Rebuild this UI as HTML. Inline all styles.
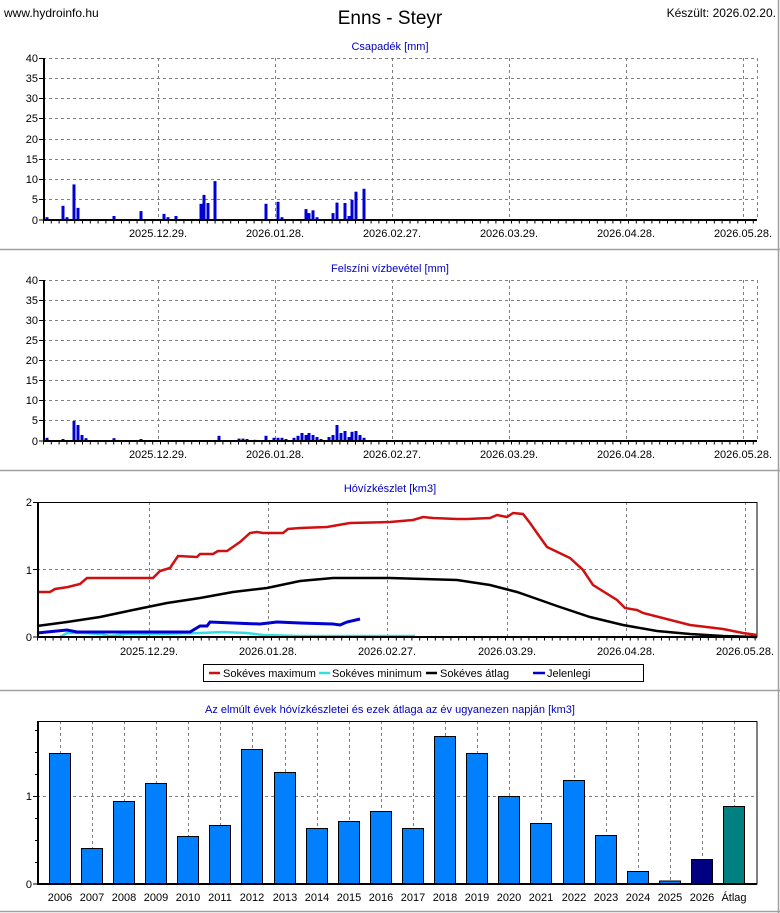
<!DOCTYPE html>
<html><head><meta charset="utf-8"><style>
html,body{margin:0;padding:0;background:#fff}
svg{display:block;font-family:"Liberation Sans",sans-serif}
</style></head><body>
<svg width="780" height="913" viewBox="0 0 780 913" xmlns="http://www.w3.org/2000/svg">
<rect width="780" height="913" fill="#fff"/>
<text x="4" y="17" font-size="12">www.hydroinfo.hu</text>
<text x="390" y="24" font-size="19" text-anchor="middle">Enns - Steyr</text>
<text x="776" y="17" font-size="12" text-anchor="end">Készült: 2026.02.20.</text>
<g stroke="#a0a0a0" stroke-width="1.5"><line x1="0" y1="249.5" x2="780" y2="249.5"/><line x1="0" y1="470.5" x2="780" y2="470.5"/><line x1="0" y1="690.5" x2="780" y2="690.5"/><line x1="0" y1="911.5" x2="780" y2="911.5"/><line x1="778.5" y1="0" x2="778.5" y2="913"/></g>

<!-- Chart 1 -->
<text x="390" y="50" font-size="11" fill="#0000c0" text-anchor="middle">Csapadék [mm]</text>
<g stroke="#808080" stroke-dasharray="3,3" stroke-width="1">
<line x1="43" y1="58.5" x2="757" y2="58.5"/><line x1="43" y1="78.5" x2="757" y2="78.5"/><line x1="43" y1="98.5" x2="757" y2="98.5"/><line x1="43" y1="118.5" x2="757" y2="118.5"/><line x1="43" y1="139.5" x2="757" y2="139.5"/><line x1="43" y1="159.5" x2="757" y2="159.5"/><line x1="43" y1="179.5" x2="757" y2="179.5"/><line x1="43" y1="199.5" x2="757" y2="199.5"/>
<line x1="158.5" y1="58" x2="158.5" y2="220"/><line x1="275.5" y1="58" x2="275.5" y2="220"/><line x1="392.5" y1="58" x2="392.5" y2="220"/><line x1="509.5" y1="58" x2="509.5" y2="220"/><line x1="626.5" y1="58" x2="626.5" y2="220"/><line x1="743.5" y1="58" x2="743.5" y2="220"/><line x1="757.5" y1="58" x2="757.5" y2="220"/>
</g>
<g fill="#0000d0">
<rect x="45.5" y="217.2" width="3" height="2.8"/><rect x="61.5" y="205.8" width="3" height="14.2"/><rect x="65.5" y="217.2" width="3" height="2.8"/><rect x="72.5" y="184.4" width="3" height="35.6"/><rect x="76.5" y="207.9" width="3" height="12.1"/><rect x="112.5" y="216" width="3" height="4"/><rect x="139.5" y="211.1" width="3" height="8.9"/><rect x="162.5" y="213.9" width="3" height="6.1"/><rect x="166.5" y="217.2" width="3" height="2.8"/><rect x="174.5" y="216" width="3" height="4"/><rect x="199.5" y="203.8" width="3" height="16.2"/><rect x="202.5" y="194.9" width="3" height="25.1"/><rect x="206.5" y="203" width="3" height="17"/><rect x="213.5" y="181.1" width="3" height="38.9"/><rect x="264.5" y="203.8" width="3" height="16.2"/><rect x="276.5" y="201.8" width="3" height="18.2"/><rect x="280.5" y="217.2" width="3" height="2.8"/><rect x="304.5" y="209.1" width="3" height="10.9"/><rect x="307.5" y="213.1" width="3" height="6.9"/><rect x="311.5" y="210.3" width="3" height="9.7"/><rect x="315.5" y="217.2" width="3" height="2.8"/><rect x="331.5" y="213.1" width="3" height="6.9"/><rect x="335.5" y="202.6" width="3" height="17.4"/><rect x="343.5" y="203" width="3" height="17"/><rect x="347.5" y="216" width="3" height="4"/><rect x="350.5" y="199.8" width="3" height="20.2"/><rect x="354.5" y="191.7" width="3" height="28.3"/><rect x="362.5" y="188.8" width="3" height="31.2"/>
</g>
<line x1="43" y1="222" x2="757" y2="222" stroke="#000" stroke-width="3" stroke-dasharray="1,6.8"/>
<g stroke="#000" stroke-width="2"><line x1="44" y1="58" x2="44" y2="221"/><line x1="43" y1="220" x2="757" y2="220"/></g>
<g stroke="#000"><line x1="39" y1="58.5" x2="44" y2="58.5"/><line x1="39" y1="78.5" x2="44" y2="78.5"/><line x1="39" y1="98.5" x2="44" y2="98.5"/><line x1="39" y1="118.5" x2="44" y2="118.5"/><line x1="39" y1="139.5" x2="44" y2="139.5"/><line x1="39" y1="159.5" x2="44" y2="159.5"/><line x1="39" y1="179.5" x2="44" y2="179.5"/><line x1="39" y1="199.5" x2="44" y2="199.5"/><line x1="39" y1="220" x2="44" y2="220"/></g>
<g font-size="11" text-anchor="end"><text x="38" y="62">40</text><text x="38" y="82">35</text><text x="38" y="102">30</text><text x="38" y="122">25</text><text x="38" y="143">20</text><text x="38" y="163">15</text><text x="38" y="183">10</text><text x="38" y="203">5</text><text x="38" y="224">0</text></g>
<g font-size="11" text-anchor="middle"><text x="158" y="237">2025.12.29.</text><text x="275" y="237">2026.01.28.</text><text x="392" y="237">2026.02.27.</text><text x="509" y="237">2026.03.29.</text><text x="626" y="237">2026.04.28.</text><text x="743" y="237">2026.05.28.</text></g>

<!-- Chart 2 -->
<text x="390" y="272" font-size="11" fill="#0000c0" text-anchor="middle">Felszíni vízbevétel [mm]</text>
<g stroke="#808080" stroke-dasharray="3,3" stroke-width="1">
<line x1="43" y1="280.5" x2="757" y2="280.5"/><line x1="43" y1="300.5" x2="757" y2="300.5"/><line x1="43" y1="320.5" x2="757" y2="320.5"/><line x1="43" y1="340.5" x2="757" y2="340.5"/><line x1="43" y1="360.5" x2="757" y2="360.5"/><line x1="43" y1="380.5" x2="757" y2="380.5"/><line x1="43" y1="400.5" x2="757" y2="400.5"/><line x1="43" y1="420.5" x2="757" y2="420.5"/>
<line x1="158.5" y1="280" x2="158.5" y2="441"/><line x1="275.5" y1="280" x2="275.5" y2="441"/><line x1="392.5" y1="280" x2="392.5" y2="441"/><line x1="509.5" y1="280" x2="509.5" y2="441"/><line x1="626.5" y1="280" x2="626.5" y2="441"/><line x1="743.5" y1="280" x2="743.5" y2="441"/><line x1="757.5" y1="280" x2="757.5" y2="441"/>
</g>
<g fill="#0000d0">
<rect x="45.5" y="437.8" width="3" height="3.2"/><rect x="61.5" y="439" width="3" height="2"/><rect x="72.5" y="421" width="3" height="20"/><rect x="76.5" y="425" width="3" height="16"/><rect x="80.5" y="435" width="3" height="6"/><rect x="84.5" y="438.2" width="3" height="2.8"/><rect x="112.5" y="438.2" width="3" height="2.8"/><rect x="139.5" y="439" width="3" height="2"/><rect x="217.5" y="435.8" width="3" height="5.2"/><rect x="237.5" y="438.6" width="3" height="2.4"/><rect x="241.5" y="438.6" width="3" height="2.4"/><rect x="245.5" y="439" width="3" height="2"/><rect x="253.5" y="439.8" width="3" height="1.2"/><rect x="264.5" y="435.8" width="3" height="5.2"/><rect x="272.5" y="437.8" width="3" height="3.2"/><rect x="276.5" y="437.8" width="3" height="3.2"/><rect x="280.5" y="437.8" width="3" height="3.2"/><rect x="284.5" y="439" width="3" height="2"/><rect x="292.5" y="437.8" width="3" height="3.2"/><rect x="296.5" y="435.8" width="3" height="5.2"/><rect x="300.5" y="433" width="3" height="8"/><rect x="304.5" y="435" width="3" height="6"/><rect x="307.5" y="433" width="3" height="8"/><rect x="311.5" y="435" width="3" height="6"/><rect x="315.5" y="437" width="3" height="4"/><rect x="319.5" y="439" width="3" height="2"/><rect x="327.5" y="437" width="3" height="4"/><rect x="331.5" y="435" width="3" height="6"/><rect x="335.5" y="425" width="3" height="16"/><rect x="339.5" y="433" width="3" height="8"/><rect x="343.5" y="431" width="3" height="10"/><rect x="347.5" y="437" width="3" height="4"/><rect x="350.5" y="431.8" width="3" height="9.2"/><rect x="354.5" y="431" width="3" height="10"/><rect x="358.5" y="435" width="3" height="6"/><rect x="362.5" y="437.8" width="3" height="3.2"/>
</g>
<line x1="43" y1="443" x2="757" y2="443" stroke="#000" stroke-width="3" stroke-dasharray="1,6.8"/>
<g stroke="#000" stroke-width="2"><line x1="44" y1="280" x2="44" y2="442"/><line x1="43" y1="441" x2="757" y2="441"/></g>
<g stroke="#000"><line x1="39" y1="280.5" x2="44" y2="280.5"/><line x1="39" y1="300.5" x2="44" y2="300.5"/><line x1="39" y1="320.5" x2="44" y2="320.5"/><line x1="39" y1="340.5" x2="44" y2="340.5"/><line x1="39" y1="360.5" x2="44" y2="360.5"/><line x1="39" y1="380.5" x2="44" y2="380.5"/><line x1="39" y1="400.5" x2="44" y2="400.5"/><line x1="39" y1="420.5" x2="44" y2="420.5"/><line x1="39" y1="441" x2="44" y2="441"/></g>
<g font-size="11" text-anchor="end"><text x="38" y="284">40</text><text x="38" y="304">35</text><text x="38" y="324">30</text><text x="38" y="344">25</text><text x="38" y="364">20</text><text x="38" y="384">15</text><text x="38" y="404">10</text><text x="38" y="424">5</text><text x="38" y="445">0</text></g>
<g font-size="11" text-anchor="middle"><text x="158" y="458">2025.12.29.</text><text x="275" y="458">2026.01.28.</text><text x="392" y="458">2026.02.27.</text><text x="509" y="458">2026.03.29.</text><text x="626" y="458">2026.04.28.</text><text x="743" y="458">2026.05.28.</text></g>

<!-- Chart 3 -->
<text x="390" y="492" font-size="11" fill="#0000c0" text-anchor="middle">Hóvízkészlet [km3]</text>
<g stroke="#808080" stroke-dasharray="3,3" stroke-width="1">
<line x1="37" y1="569.5" x2="757" y2="569.5"/>
<line x1="149.5" y1="502" x2="149.5" y2="637"/><line x1="268.5" y1="502" x2="268.5" y2="637"/><line x1="387.5" y1="502" x2="387.5" y2="637"/><line x1="507.5" y1="502" x2="507.5" y2="637"/><line x1="626.5" y1="502" x2="626.5" y2="637"/><line x1="745.5" y1="502" x2="745.5" y2="637"/>
</g>
<rect x="37.5" y="502.5" width="719.5" height="134.5" fill="none" stroke="#000" stroke-width="1"/>
<polyline fill="none" stroke="#30e0e0" stroke-width="2.5" points="60,637 67,633 83,633 100,634 110,636 127,634 157,634 200,633 223,632 247,633 263,635 300,636 415,636"/>
<polyline fill="none" stroke="#000" stroke-width="2.5" points="37,626 67,622 100,617 133,610 167,603 200,598 233,592 267,588 300,581 333,578 390,578 457,580 490,585 517,592 540,600 557,606 590,617 623,625 657,631 690,634 723,636 757,637"/>
<polyline fill="none" stroke="#d01010" stroke-width="2.5" points="37,592 50,592 55,589 68,587 80,584 87,578 153,578 160,571 170,568 178,556 197,557 200,554 213,554 218,551 227,551 240,542 250,533 257,532 263,533 283,533 288,529 300,528 327,527 350,523 390,522 413,520 423,517 433,518 457,519 467,519 490,518 497,515 507,517 513,513 523,514 530,523 537,533 547,547 570,558 583,570 593,585 617,600 625,608 637,610 643,613 690,625 723,629 743,633 757,635"/>
<polyline fill="none" stroke="#0000d0" stroke-width="3" points="37,633 67,630 77,632 190,632 200,626 207,626 210,622 233,623 260,624 277,622 300,623 333,624 340,625 347,622 360,619"/>
<line x1="37" y1="639" x2="757" y2="639" stroke="#000" stroke-width="3" stroke-dasharray="1,6.8"/>
<g stroke="#000" stroke-width="2"><line x1="38" y1="502" x2="38" y2="638"/><line x1="37" y1="637" x2="757" y2="637"/></g>
<g stroke="#000"><line x1="33" y1="502.5" x2="38" y2="502.5"/><line x1="33" y1="569.5" x2="38" y2="569.5"/><line x1="33" y1="637" x2="38" y2="637"/></g>
<g font-size="11" text-anchor="end"><text x="32" y="506">2</text><text x="32" y="574">1</text><text x="32" y="641">0</text></g>
<g font-size="11" text-anchor="middle"><text x="149" y="655">2025.12.29.</text><text x="268" y="655">2026.01.28.</text><text x="387" y="655">2026.02.27.</text><text x="507" y="655">2026.03.29.</text><text x="626" y="655">2026.04.28.</text><text x="745" y="655">2026.05.28.</text></g>
<rect x="203.5" y="664.5" width="440" height="17" fill="#fff" stroke="#000"/>
<g stroke-width="2.5"><line x1="209" y1="673" x2="220" y2="673" stroke="#d01010"/><line x1="319" y1="673" x2="330" y2="673" stroke="#30e0e0"/><line x1="426" y1="673" x2="437" y2="673" stroke="#000"/><line x1="533" y1="673" x2="545" y2="673" stroke="#0000d0"/></g>
<g font-size="11"><text x="223" y="677">Sokéves maximum</text><text x="332" y="677">Sokéves minimum</text><text x="440" y="677">Sokéves átlag</text><text x="547" y="677">Jelenlegi</text></g>

<!-- Chart 4 -->
<text x="390" y="713" font-size="11" fill="#0000c0" text-anchor="middle">Az elmúlt évek hóvízkészletei és ezek átlaga az év ugyanezen napján [km3]</text>
<g stroke="#808080" stroke-dasharray="3,3" stroke-width="1">
<line x1="37" y1="796.5" x2="757" y2="796.5"/>
<line x1="60.5" y1="721" x2="60.5" y2="884"/><line x1="92.5" y1="721" x2="92.5" y2="884"/><line x1="124.5" y1="721" x2="124.5" y2="884"/><line x1="156.5" y1="721" x2="156.5" y2="884"/><line x1="188.5" y1="721" x2="188.5" y2="884"/><line x1="220.5" y1="721" x2="220.5" y2="884"/><line x1="252.5" y1="721" x2="252.5" y2="884"/><line x1="285.5" y1="721" x2="285.5" y2="884"/><line x1="317.5" y1="721" x2="317.5" y2="884"/><line x1="349.5" y1="721" x2="349.5" y2="884"/><line x1="381.5" y1="721" x2="381.5" y2="884"/><line x1="413.5" y1="721" x2="413.5" y2="884"/><line x1="445.5" y1="721" x2="445.5" y2="884"/><line x1="477.5" y1="721" x2="477.5" y2="884"/><line x1="509.5" y1="721" x2="509.5" y2="884"/><line x1="541.5" y1="721" x2="541.5" y2="884"/><line x1="574.5" y1="721" x2="574.5" y2="884"/><line x1="606.5" y1="721" x2="606.5" y2="884"/><line x1="638.5" y1="721" x2="638.5" y2="884"/><line x1="670.5" y1="721" x2="670.5" y2="884"/><line x1="702.5" y1="721" x2="702.5" y2="884"/><line x1="734.5" y1="721" x2="734.5" y2="884"/>
</g>
<rect x="37.5" y="721.5" width="719.5" height="162.5" fill="none" stroke="#000"/>
<g fill="#0080ff" stroke="#000" stroke-width="1">
<rect x="49.5" y="753.5" width="21" height="130.5"/><rect x="81.5" y="848.5" width="21" height="35.5"/><rect x="113.5" y="801.5" width="21" height="82.5"/><rect x="145.5" y="783.5" width="21" height="100.5"/><rect x="177.5" y="836.5" width="21" height="47.5"/><rect x="209.5" y="825.5" width="21" height="58.5"/><rect x="241.5" y="749.5" width="21" height="134.5"/><rect x="274.5" y="772.5" width="21" height="111.5"/><rect x="306.5" y="828.5" width="21" height="55.5"/><rect x="338.5" y="821.5" width="21" height="62.5"/><rect x="370.5" y="811.5" width="21" height="72.5"/><rect x="402.5" y="828.5" width="21" height="55.5"/><rect x="434.5" y="736.5" width="21" height="147.5"/><rect x="466.5" y="753.5" width="21" height="130.5"/><rect x="498.5" y="796.5" width="21" height="87.5"/><rect x="530.5" y="823.5" width="21" height="60.5"/><rect x="563.5" y="780.5" width="21" height="103.5"/><rect x="595.5" y="835.5" width="21" height="48.5"/><rect x="627.5" y="871.5" width="21" height="12.5"/><rect x="659.5" y="881" width="21" height="3"/>
<rect x="691.5" y="859.5" width="21" height="24.5" fill="#000080"/><rect x="723.5" y="806.5" width="21" height="77.5" fill="#008080"/>
</g>
<g stroke="#000" stroke-width="2"><line x1="38" y1="721" x2="38" y2="885"/><line x1="37" y1="884" x2="757" y2="884"/></g>
<g stroke="#000"><line x1="33" y1="796.5" x2="38" y2="796.5"/><line x1="33" y1="884" x2="38" y2="884"/><line x1="35" y1="752.5" x2="38" y2="752.5"/><line x1="35" y1="840.5" x2="38" y2="840.5"/><line x1="35" y1="730.5" x2="38" y2="730.5"/><line x1="35" y1="774.5" x2="38" y2="774.5"/><line x1="35" y1="818.5" x2="38" y2="818.5"/><line x1="35" y1="862.5" x2="38" y2="862.5"/></g>
<g font-size="11" text-anchor="end"><text x="32" y="800">1</text><text x="32" y="888">0</text></g>
<g font-size="11" text-anchor="middle"><text x="60" y="901">2006</text><text x="92" y="901">2007</text><text x="124" y="901">2008</text><text x="156" y="901">2009</text><text x="188" y="901">2010</text><text x="220" y="901">2011</text><text x="252" y="901">2012</text><text x="285" y="901">2013</text><text x="317" y="901">2014</text><text x="349" y="901">2015</text><text x="381" y="901">2016</text><text x="413" y="901">2017</text><text x="445" y="901">2018</text><text x="477" y="901">2019</text><text x="509" y="901">2020</text><text x="541" y="901">2021</text><text x="574" y="901">2022</text><text x="606" y="901">2023</text><text x="638" y="901">2024</text><text x="670" y="901">2025</text><text x="702" y="901">2026</text><text x="734" y="901">Átlag</text></g>
</svg>
</body></html>
